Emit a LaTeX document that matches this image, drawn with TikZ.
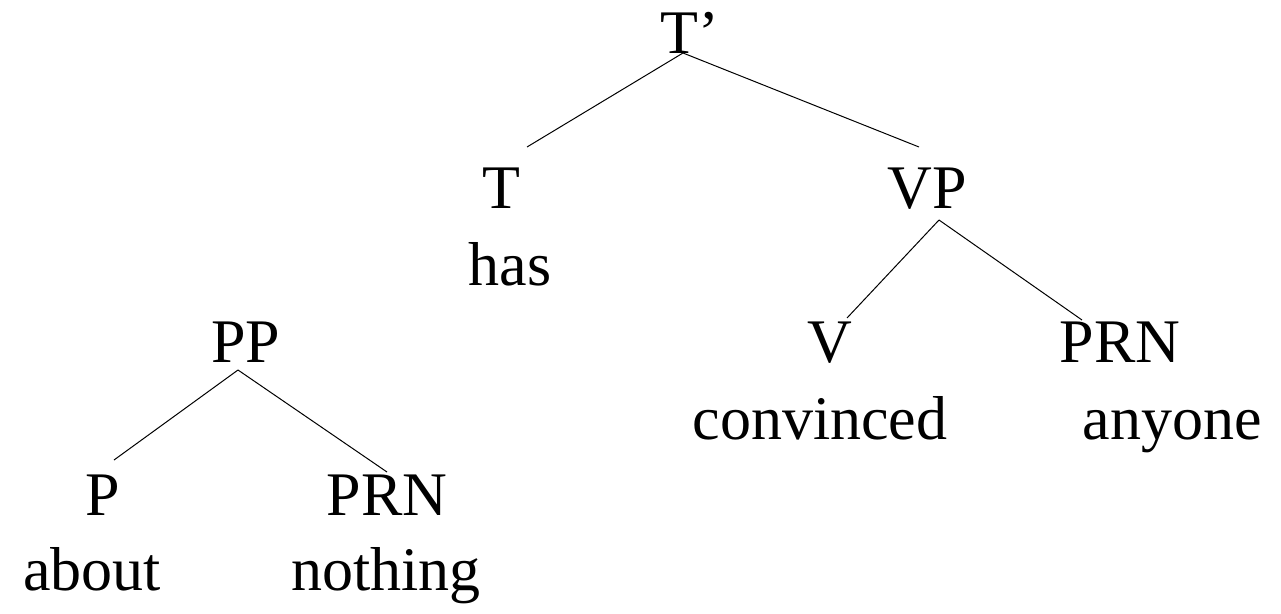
\documentclass[tikz,border=0pt]{standalone}
\usepackage{fontspec}
\setmainfont{Liberation Serif}
\usetikzlibrary{calc}
\begin{document}
\begin{tikzpicture}[x=1pt,y=-1pt,
  lbl/.style={anchor=base,inner sep=0pt,font=\fontsize{62}{62}\selectfont},
  edge/.style={draw=black,line width=1pt}]
\useasboundingbox (0,0) rectangle (1281,613);
\node[lbl] (Tp) at (690,53) {T’};
\node[lbl] (T) at (501,208) {T};
\node[lbl] (has) at (510,285) {has};
\node[lbl] (VP) at (927,208) {VP};
\node[lbl] (PP) at (246,362) {PP};
\node[lbl] (V) at (830,362) {V};
\node[lbl] (convinced) at (820,439) {convinced};
\node[lbl] (PRNa) at (1120,362) {PRN};
\node[lbl] (anyone) at (1172,439) {anyone};
\node[lbl] (P) at (103,515) {P};
\node[lbl] (about) at (92,590) {about};
\node[lbl] (PRNb) at (387,515) {PRN};
\node[lbl] (nothing) at (386,590) {nothing};
\draw[edge] ($(Tp.base)+(-7,0)$) -- ($(T.base)+(26,-61)$);
\draw[edge] ($(Tp.base)+(-7,0)$) -- ($(VP.base)+(-8,-61)$);
\draw[edge] ($(VP.base)+(12,12)$) -- ($(V.base)+(17,-44)$);
\draw[edge] ($(VP.base)+(12,12)$) -- ($(PRNa.base)+(-38,-42)$);
\draw[edge] ($(PP.base)+(-8,8)$) -- ($(P.base)+(11,-55)$);
\draw[edge] ($(PP.base)+(-8,8)$) -- ($(PRNb.base)+(0,-43)$);
\end{tikzpicture}
\end{document}
